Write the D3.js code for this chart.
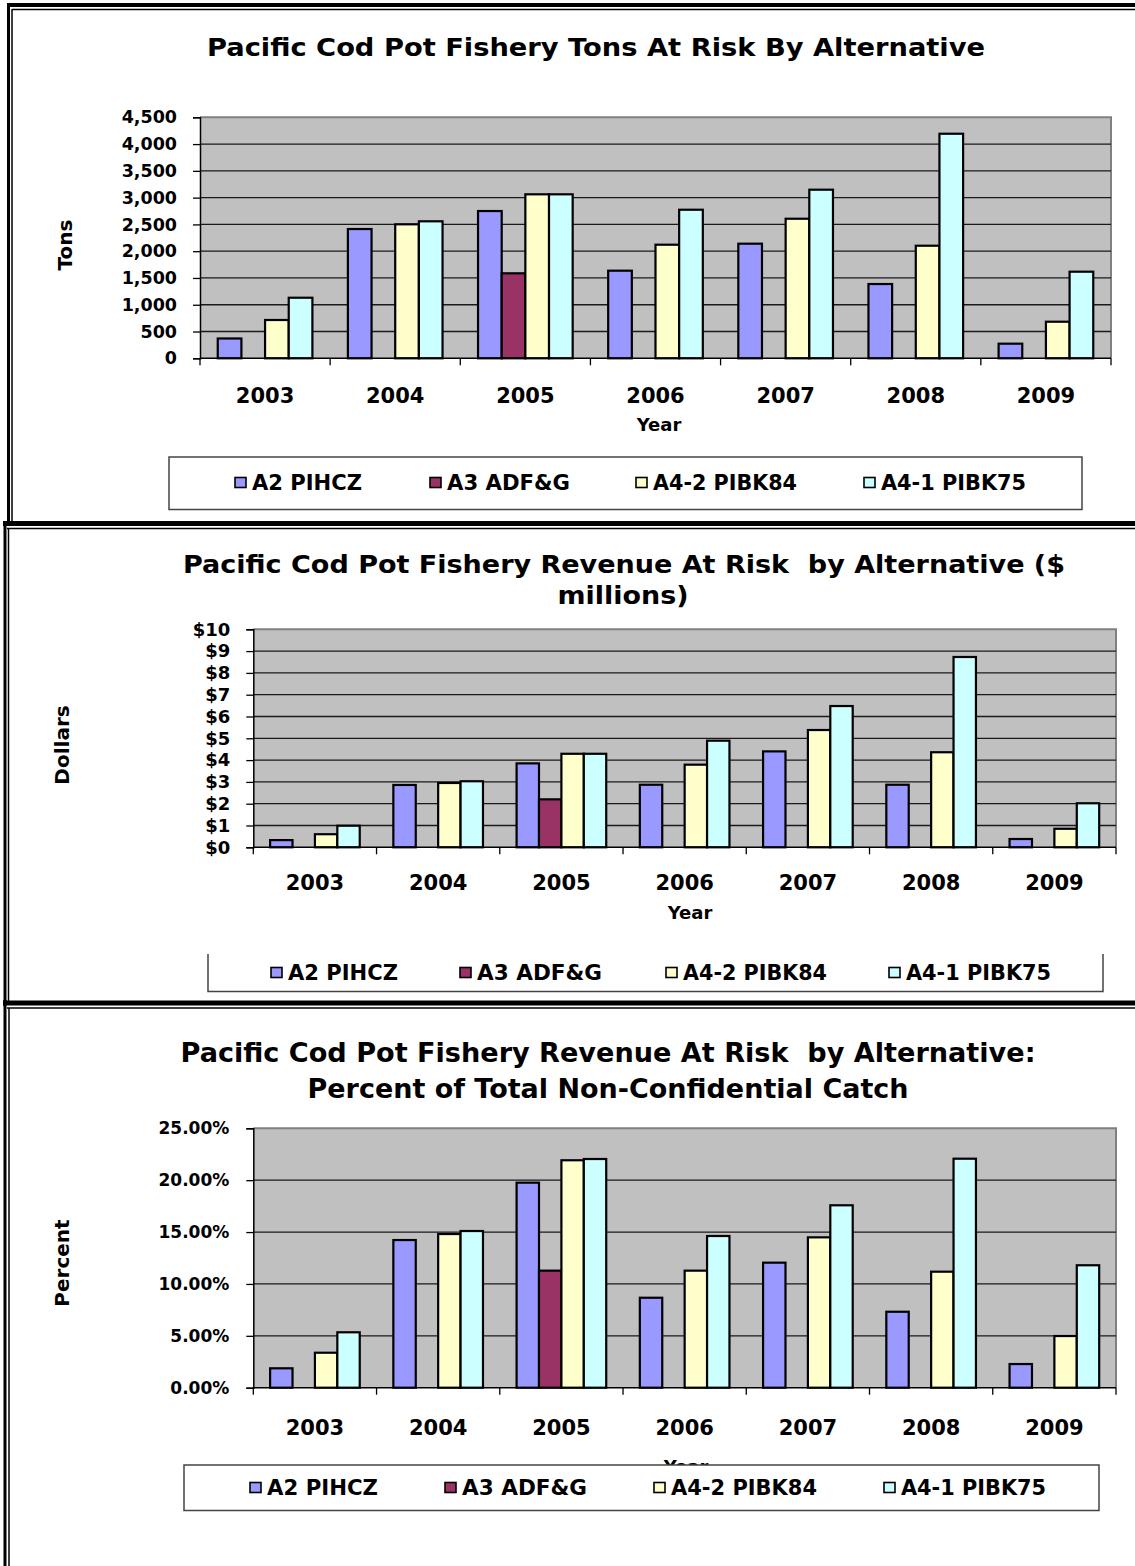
<!DOCTYPE html>
<html>
<head>
<meta charset="utf-8">
<script src="https://cdn.jsdelivr.net/npm/d3@7"></script>
<style>
  html, body { margin: 0; padding: 0; background: #fff; }
  svg { display: block; }
  text { font-family: "DejaVu Sans", Verdana, sans-serif; font-weight: bold; fill: #000; }
</style>
</head>
<body>
<svg id="page" width="1135" height="1566"></svg>
<script>
// Years on the category axis
const years = ["2003", "2004", "2005", "2006", "2007", "2008", "2009"];

// Alternatives (one bar series each)
const seriesNames = ["A2 PIHCZ", "A3 ADF&G", "A4-2 PIBK84", "A4-1 PIBK75"];

// Tons at risk
const tonsA2  = [370, 2414, 2750, 1636, 2140, 1387, 273];
const tonsA3  = [0, 0, 1587, 0, 0, 0, 0];
const tonsA42 = [715, 2502, 3062, 2121, 2606, 2102, 683];
const tonsA41 = [1131, 2558, 3062, 2774, 3148, 4193, 1617];

// Revenue at risk, $ millions
const revA2  = [0.33, 2.86, 3.85, 2.87, 4.40, 2.87, 0.38];
const revA3  = [0, 0, 2.20, 0, 0, 0, 0];
const revA42 = [0.60, 2.95, 4.29, 3.79, 5.38, 4.36, 0.85];
const revA41 = [0.99, 3.03, 4.29, 4.89, 6.48, 8.73, 2.02];

// Revenue at risk as percent of total non-confidential catch
const pctA2  = [1.87, 14.23, 19.76, 8.67, 12.05, 7.32, 2.28];
const pctA3  = [0, 0, 11.28, 0, 0, 0, 0];
const pctA42 = [3.37, 14.81, 21.92, 11.28, 14.49, 11.18, 4.98];
const pctA41 = [5.34, 15.10, 22.04, 14.62, 17.58, 22.07, 11.80];

// Value-axis ticks
const tonsTicks = [0, 500, 1000, 1500, 2000, 2500, 3000, 3500, 4000, 4500];
const revTicks  = [0, 1, 2, 3, 4, 5, 6, 7, 8, 9, 10];
const pctTicks  = [0, 5, 10, 15, 20, 25];

const fmtTons = d3.format(",");
const fmtRev  = d => "$" + d;
const fmtPct  = d => d.toFixed(2) + "%";

const seriesColors = ["#9999FF", "#993366", "#FFFFCC", "#CCFFFF"];

const svg = d3.select("#page");

// ---- panel frames (double rules) ----
const frame = svg.append("g");
function rule(x1, y1, x2, y2, w) {
  frame.append("line").attr("x1", x1).attr("y1", y1).attr("x2", x2).attr("y2", y2)
    .attr("stroke", "#000").attr("stroke-width", w);
}
// panel 1
rule(7, 5, 1135, 5, 4);
rule(12, 9.5, 1135, 9.5, 1.5);
rule(8.5, 3, 8.5, 526, 3);
rule(12, 9, 12, 521, 1.5);
// separator 1 / panel 2
rule(3, 523.5, 1135, 523.5, 5);
rule(7, 528.5, 1135, 528.5, 1.5);
rule(5, 521, 5, 1006, 3);
rule(8.5, 528, 8.5, 1001, 1.5);
// separator 2 / panel 3
rule(3, 1003, 1135, 1003, 5);
rule(7, 1008, 1135, 1008, 1.5);
rule(5, 1000, 5, 1566, 3);
rule(9, 1008, 9, 1566, 1.5);

function drawChart(o) {
  const g = svg.append("g");
  const values = o.series;

  const x0 = d3.scaleBand().domain(years).range([o.left, o.right]).paddingInner(0).paddingOuter(0);
  const bw = x0.bandwidth();
  const x1 = d3.scaleBand().domain(seriesNames)
    .range([bw * 0.75 / 5.5, bw * (1 - 0.75 / 5.5)]).padding(0);
  const y = d3.scaleLinear().domain([0, o.max]).range([o.bottom, o.top]);

  // plot area
  g.append("rect").attr("x", o.left).attr("y", o.top)
    .attr("width", o.right - o.left).attr("height", o.bottom - o.top)
    .attr("fill", "#C0C0C0");
  g.append("path")
    .attr("d", `M${o.left},${o.top}H${o.right}V${o.bottom}`)
    .attr("fill", "none").attr("stroke", "#808080").attr("stroke-width", 2);

  // gridlines
  g.append("g").selectAll("line").data(o.ticks.filter(t => t > 0 && t < o.max)).join("line")
    .attr("x1", o.left).attr("x2", o.right)
    .attr("y1", d => y(d)).attr("y2", d => y(d))
    .attr("stroke", "#1a1a1a").attr("stroke-width", 1.3);

  // bars
  const groups = g.append("g").selectAll("g").data(years).join("g")
    .attr("transform", d => `translate(${x0(d)},0)`);
  groups.selectAll("rect")
    .data((yr, i) => seriesNames.map((s, k) => ({ s, k, v: values[k][i] })).filter(d => d.v > 0))
    .join("rect")
    .attr("x", d => x1(d.s))
    .attr("width", x1.bandwidth())
    .attr("y", d => y(d.v))
    .attr("height", d => y(0) - y(d.v))
    .attr("fill", d => seriesColors[d.k])
    .attr("stroke", "#000").attr("stroke-width", 2.2);

  // value axis
  const yAxis = d3.axisLeft(y).tickValues(o.ticks).tickFormat(o.fmt)
    .tickSize(7).tickPadding(o.tickPad);
  const ya = g.append("g").attr("transform", `translate(${o.left},0)`).call(yAxis);
  ya.select(".domain").attr("stroke", "#000").attr("stroke-width", 1.5);
  ya.selectAll(".tick line").attr("stroke", "#000").attr("stroke-width", 1.3);
  ya.selectAll(".tick text").attr("font-family", "DejaVu Sans").attr("font-weight", "bold")
    .attr("font-size", o.tickSize).attr("fill", "#000");

  // category axis: labels at band centres, tick marks at band edges
  const xAxis = d3.axisBottom(x0).tickSize(0).tickPadding(o.yearPad);
  const xa = g.append("g").attr("transform", `translate(0,${o.bottom})`).call(xAxis);
  xa.select(".domain").remove();
  xa.selectAll(".tick text").attr("font-family", "DejaVu Sans").attr("font-weight", "bold")
    .attr("font-size", o.yearSize).attr("fill", "#000");
  g.append("line").attr("x1", o.left).attr("x2", o.right)
    .attr("y1", o.bottom).attr("y2", o.bottom)
    .attr("stroke", "#000").attr("stroke-width", 1.5);
  const edges = years.map(d => x0(d)).concat([x0(years[years.length - 1]) + bw]);
  g.append("g").selectAll("line").data(edges).join("line")
    .attr("x1", d => d).attr("x2", d => d)
    .attr("y1", o.bottom).attr("y2", o.bottom + 7)
    .attr("stroke", "#000").attr("stroke-width", 1.3);

  // titles
  o.title.forEach(t => {
    g.append("text").attr("x", t.x).attr("y", t.y).attr("text-anchor", "middle")
      .attr("font-size", t.size).attr("textLength", t.len).attr("lengthAdjust", "spacingAndGlyphs")
      .style("white-space", "pre").text(t.text);
  });

  // axis titles
  g.append("text").attr("x", o.xTitle.x).attr("y", o.xTitle.y).attr("text-anchor", "middle")
    .attr("font-size", o.xTitle.size).text("Year");
  g.append("text").attr("transform", `translate(${o.yTitle.x},${o.yTitle.y}) rotate(-90)`)
    .attr("text-anchor", "middle").attr("dominant-baseline", "central")
    .attr("font-size", o.yTitle.size).text(o.yTitle.text);

  // legend
  const L = o.legend;
  if (L.open) {
    g.append("path").attr("d", `M${L.x0},${L.y0}V${L.y1}H${L.x1}V${L.y0}`)
      .attr("fill", "#fff").attr("stroke", "#444").attr("stroke-width", 1.5);
  } else {
    g.append("rect").attr("x", L.x0).attr("y", L.y0).attr("width", L.x1 - L.x0).attr("height", L.y1 - L.y0)
      .attr("fill", "#fff").attr("stroke", "#444").attr("stroke-width", 1.5);
  }
  seriesNames.forEach((s, k) => {
    g.append("rect").attr("x", L.xs[k] - 17).attr("y", L.cy - 5.5).attr("width", 11).attr("height", 10)
      .attr("fill", seriesColors[k]).attr("stroke", "#000").attr("stroke-width", 1.6);
    g.append("text").attr("x", L.xs[k]).attr("y", L.cy).attr("dominant-baseline", "central")
      .attr("font-size", L.size).attr("textLength", L.lens[k]).attr("lengthAdjust", "spacingAndGlyphs")
      .text(s);
  });
}

drawChart({
  series: [tonsA2, tonsA3, tonsA42, tonsA41],
  left: 200, right: 1111, top: 117.3, bottom: 358.3, max: 4500,
  ticks: tonsTicks, fmt: fmtTons, tickSize: 17.5, tickPad: 16,
  yearSize: 21, yearPad: 30,
  title: [{ text: "Pacific Cod Pot Fishery Tons At Risk By Alternative", x: 596, y: 56, size: 25, len: 778 }],
  xTitle: { x: 659, y: 431, size: 18 },
  yTitle: { text: "Tons", x: 65, y: 245, size: 20 },
  legend: { x0: 169, x1: 1082, y0: 457, y1: 509.5, cy: 483, size: 20.5,
            xs: [252, 447, 653, 881], lens: [110, 123, 144, 145] }
});

drawChart({
  series: [revA2, revA3, revA42, revA41],
  left: 253.3, right: 1116, top: 629.3, bottom: 847.3, max: 10,
  ticks: revTicks, fmt: fmtRev, tickSize: 18, tickPad: 16,
  yearSize: 21, yearPad: 28,
  title: [
    { text: "Pacific Cod Pot Fishery Revenue At Risk  by Alternative ($", x: 624, y: 573, size: 24, len: 882 },
    { text: "millions)", x: 623, y: 604, size: 24, len: 131 }
  ],
  xTitle: { x: 690, y: 919, size: 18 },
  yTitle: { text: "Dollars", x: 62, y: 745, size: 20 },
  legend: { open: true, x0: 208, x1: 1103, y0: 954, y1: 991.5, cy: 973, size: 20.5,
            xs: [288, 477, 683, 906], lens: [110, 125, 144, 145] }
});

drawChart({
  series: [pctA2, pctA3, pctA42, pctA41],
  left: 253.3, right: 1116, top: 1128.3, bottom: 1387.7, max: 25,
  ticks: pctTicks, fmt: fmtPct, tickSize: 17, tickPad: 17,
  yearSize: 21, yearPad: 32,
  title: [
    { text: "Pacific Cod Pot Fishery Revenue At Risk  by Alternative:", x: 608, y: 1062, size: 27, len: 855 },
    { text: "Percent of Total Non-Confidential Catch", x: 608, y: 1098, size: 27, len: 601 }
  ],
  xTitle: { x: 686, y: 1473, size: 18 },
  yTitle: { text: "Percent", x: 62, y: 1263, size: 20 },
  legend: { x0: 184, x1: 1099, y0: 1465, y1: 1510.5, cy: 1488, size: 20.5,
            xs: [267, 462, 671, 901], lens: [111, 125, 146, 145] }
});
</script>
</body>
</html>
